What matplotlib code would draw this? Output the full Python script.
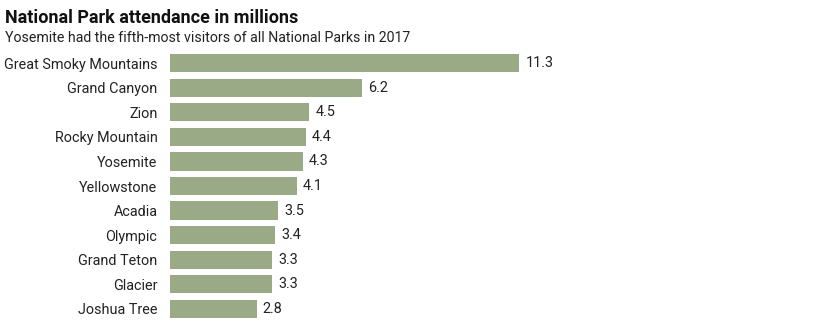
import matplotlib.pyplot as plt

parks = ['Great Smoky Mountains', 'Grand Canyon', 'Zion', 'Rocky Mountain', 'Yosemite',
         'Yellowstone', 'Acadia', 'Olympic', 'Grand Teton', 'Glacier', 'Joshua Tree']
visitors = [11.3, 6.2, 4.5, 4.4, 4.3, 4.1, 3.5, 3.4, 3.3, 3.3, 2.8]

plt.rcParams['font.family'] = ['Roboto', 'DejaVu Sans']

fig = plt.figure(figsize=(8.2, 3.34), dpi=100)
W, H = 820, 334
ax = fig.add_axes([170 / W, 1 - 321 / H, 650 / W, (321 - 51) / H])

ypos = list(range(len(parks)))
ax.barh(ypos, visitors, height=0.74, color='#9aa986')
ax.set_ylim(len(parks) - 0.5, -0.5)
ax.set_xlim(0, 650 / 30.9)

for y, v in zip(ypos, visitors):
    ax.text(v + 0.2, y, f'{v}', va='center', ha='left', fontsize=10.4, color='#222222')

ax.set_yticks(ypos)
ax.set_yticklabels(parks, fontsize=10.4, color='#222222')
ax.tick_params(axis='y', length=0, pad=9)
ax.set_xticks([])
for s in ax.spines.values():
    s.set_visible(False)

fig.text(5 / W, 1 - 23 / H, 'National Park attendance in millions', fontsize=13,
         fontweight='bold', color='#111111', ha='left', va='baseline')
fig.text(5 / W, 1 - 42 / H, 'Yosemite had the fifth-most visitors of all National Parks in 2017',
         fontsize=10.2, color='#222222', ha='left', va='baseline')

fig.savefig('out.png', dpi=100)
